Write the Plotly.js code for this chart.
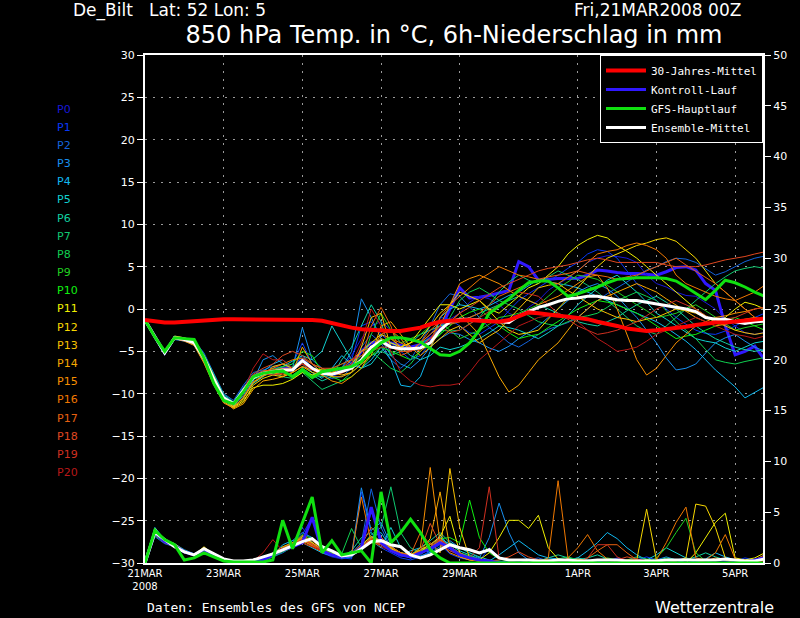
<!DOCTYPE html>
<html><head><meta charset="utf-8">
<script src="https://cdn.plot.ly/plotly-3.0.1.min.js"></script>
<style>html,body{margin:0;padding:0;background:#000;}#chart{width:800px;height:618px;}</style>
</head><body><div id="chart"></div>
<script>
const HOURS = [0,6,12,18,24,30,36,42,48,54,60,66,72,78,84,90,96,102,108,114,120,126,132,138,144,150,156,162,168,174,180,186,192,198,204,210,216,222,228,234,240,246,252,258,264,270,276,282,288,294,300,306,312,318,324,330,336,342,348,354,360,366,372,378,384];
const TICK_HOURS = [0,48,96,144,192,264,312,360];
const TICK_LABELS = ['21MAR<br>2008','23MAR','25MAR','27MAR','29MAR','1APR','3APR','5APR'];
const MEMBER_NAMES = ['P0','P1','P2','P3','P4','P5','P6','P7','P8','P9','P10','P11','P12','P13','P14','P15','P16','P17','P18','P19','P20'];
const MEMBER_COLORS = ['#1818d8','#0838f8','#1464dc','#1890f0','#10b8f0','#10d0d0','#10d0a0','#10c870','#10d050','#20d020','#10f010','#f0f000','#f8d800','#f8c000','#f8a800','#f89000','#f07800','#e86010','#e04820','#d03020','#b81818'];

// 850 hPa temperature of the members (deg C), 6-hourly from 21MAR2008 00Z
const T00 = [-1.3,-3.4,-5.1,-3.5,-3.7,-4.1,-6.0,-8.5,-10.6,-11.4,-9.8,-8.2,-7.5,-7.0,-6.8,-7.5,-6.0,-7.5,-8.0,-7.8,-7.0,-5.5,-3.5,-2.0,-1.5,-2.5,-4.0,-5.0,-4.5,-3.0,-1.5,-1.2,-0.5,0.8,1.5,1.2,0.5,-0.5,-1.0,0.2,1.0,2.2,3.0,3.6,4.5,5.5,6.0,6.3,6.2,6.0,5.5,4.0,3.0,2.6,2.0,1.6,1.5,0.8,0.0,-1.2,-2.0,-2.8,-3.0,-2.8,-2.5];
const T01 = [-1.3,-3.2,-5.3,-3.3,-3.5,-3.9,-5.5,-8.0,-10.2,-11.0,-9.2,-7.8,-7.3,-7.5,-7.0,-6.5,-4.0,-6.5,-7.5,-8.0,-7.5,-6.0,-2.0,-1.5,-3.0,-4.0,-5.0,-6.0,-5.5,-4.0,-1.0,-1.2,-2.0,-2.8,-3.0,-2.2,-1.5,-0.2,1.0,1.8,2.5,3.2,4.0,4.8,5.5,6.5,7.0,6.8,6.0,4.5,3.0,2.0,1.0,0.0,-1.0,-1.8,-2.5,-2.9,-3.0,-2.6,-2.0,-1.4,-1.0,-0.5,0.0];
const T02 = [-1.3,-3.3,-5.0,-3.2,-3.4,-3.7,-5.2,-7.6,-10.0,-10.8,-9.0,-7.5,-7.2,-6.8,-6.5,-7.0,-5.5,-7.0,-7.8,-8.2,-8.0,-7.0,-4.5,-3.0,-4.0,-6.0,-7.0,-6.0,-4.0,-2.0,0.5,1.8,1.5,0.2,-1.0,-2.2,-3.0,-4.0,-4.5,-3.8,-3.0,-2.4,-2.0,-1.6,-1.0,0.0,1.0,1.8,2.5,3.2,4.0,4.6,5.0,5.6,6.0,5.9,5.5,4.8,4.0,4.4,5.0,5.6,6.0,6.3,6.5];
const T03 = [-1.3,-3.5,-5.4,-3.6,-3.8,-4.2,-6.2,-8.8,-10.8,-11.5,-10.2,-8.5,-6.0,-5.5,-6.5,-7.0,-2.2,-6.0,-7.0,-7.5,-7.0,-5.0,1.2,-1.0,-3.5,-5.5,-6.5,-7.0,-6.0,-4.5,-3.5,-2.8,-3.0,-3.6,-4.0,-4.6,-5.0,-4.4,-3.5,-2.8,-2.0,-1.0,0.0,1.0,2.0,2.6,3.0,2.4,1.5,0.2,-1.0,-2.5,-4.0,-5.8,-7.2,-7.0,-6.5,-5.2,-4.0,-3.4,-3.0,-3.8,-4.5,-5.0,-5.5];
const T04 = [-1.3,-3.2,-5.2,-3.4,-3.6,-4.0,-5.7,-8.2,-10.4,-11.2,-9.4,-7.9,-7.4,-6.5,-6.0,-7.0,-6.5,-7.5,-8.2,-7.0,-5.5,-6.5,-7.0,-6.0,-4.5,-6.0,-9.0,-9.2,-8.0,-5.0,-1.0,0.0,0.5,0.3,0.0,0.4,1.0,1.6,2.0,2.8,3.5,3.2,3.0,2.8,2.5,2.0,1.5,1.0,0.5,0.0,-0.5,-1.0,-1.5,-2.2,-3.0,-3.8,-4.8,-6.0,-7.2,-8.2,-9.2,-10.5,-9.8,-9.2,-9.0];
const T05 = [-1.3,-3.4,-5.3,-3.5,-3.7,-4.3,-6.3,-8.9,-11.0,-11.6,-10.5,-8.8,-8.0,-7.2,-6.8,-6.2,-5.5,-6.0,-5.0,-2.0,-4.0,-6.0,-7.0,-6.5,-5.0,-4.0,-4.5,-5.5,-6.0,-5.5,-4.5,-4.8,-4.5,-4.0,-3.5,-2.8,-2.0,-2.2,-2.5,-3.0,-3.5,-2.8,-2.0,-0.8,0.5,1.5,2.5,3.4,4.0,3.0,2.0,0.8,-0.5,-1.2,-2.0,-2.8,-3.5,-3.8,-4.0,-4.6,-5.0,-4.5,-4.0,-3.8,-3.5];
const T06 = [-1.3,-3.3,-5.1,-3.3,-3.5,-3.8,-5.4,-7.8,-10.1,-11.0,-9.3,-8.0,-7.7,-7.8,-7.5,-8.0,-7.0,-7.8,-8.5,-8.0,-6.0,-4.5,-2.0,0.5,-1.5,-5.5,-5.0,-4.0,-3.0,-2.5,-2.0,-1.8,-1.5,-1.0,-0.5,0.0,0.5,1.0,1.5,1.0,0.5,0.0,-0.5,-1.0,-1.5,-1.8,-2.0,-1.5,-1.0,-0.2,0.5,1.0,1.5,0.8,0.0,-1.0,-2.0,-2.8,-3.5,-4.0,-4.5,-4.8,-5.0,-4.8,-4.5];
const T07 = [-1.3,-3.3,-5.2,-3.4,-3.7,-4.1,-5.9,-8.4,-10.6,-11.4,-9.7,-8.3,-7.9,-7.5,-8.0,-8.2,-7.5,-8.5,-9.5,-9.0,-8.5,-7.5,-6.5,-5.5,-5.0,-5.5,-4.5,-3.5,-4.0,-3.5,-2.5,-2.6,-2.5,-1.8,-1.0,0.5,2.0,3.2,4.0,3.4,3.0,3.8,4.5,4.0,3.5,2.8,2.0,1.0,0.0,-1.0,-2.0,-2.6,-3.0,-2.0,-1.0,0.0,1.0,2.0,3.0,3.8,4.5,4.8,5.0,4.8,4.5];
const T08 = [-1.3,-3.4,-5.2,-3.5,-3.6,-3.9,-5.6,-8.1,-10.3,-11.1,-9.5,-8.1,-7.6,-7.0,-7.5,-7.8,-7.0,-7.8,-8.0,-7.8,-7.2,-6.8,-5.5,-5.0,-6.0,-7.0,-7.5,-6.5,-5.0,-4.0,-3.0,-1.0,1.0,2.0,2.5,1.8,1.0,0.5,0.0,-0.8,-1.5,-1.8,-2.0,-1.5,-1.0,-0.8,-0.5,0.2,1.0,1.5,2.0,1.5,1.0,-0.2,-1.5,-2.5,-3.5,-4.8,-6.0,-6.3,-6.5,-6.2,-6.0,-5.8,-5.5];
const T09 = [-1.3,-3.2,-5.0,-3.3,-3.5,-4.0,-5.8,-8.3,-10.5,-11.3,-9.6,-8.0,-7.7,-7.6,-7.4,-6.8,-6.0,-7.0,-7.2,-7.0,-6.5,-6.0,-6.5,-3.0,-0.5,-2.5,-4.0,-3.5,-3.0,-2.0,-1.5,-2.5,-3.5,-3.0,-2.5,-1.8,-1.0,-0.8,-0.5,0.0,0.5,1.5,2.5,3.2,4.0,3.8,3.5,2.8,2.0,1.2,0.5,-0.2,-1.0,-0.8,-0.5,0.0,0.5,-0.2,-1.0,-1.8,-2.5,-2.2,-2.0,-1.8,-1.5];
const T10 = [-1.3,-3.3,-5.3,-3.4,-3.6,-4.1,-6.0,-8.6,-10.8,-11.5,-9.9,-8.3,-7.6,-7.2,-6.8,-6.5,-5.0,-5.5,-7.5,-8.0,-8.5,-8.0,-7.0,-5.5,-4.5,-5.0,-5.5,-6.0,-5.0,-4.0,-3.0,-2.0,-1.0,-0.4,0.0,-1.0,-2.0,-2.8,-3.5,-3.2,-3.0,-2.2,-1.5,-0.8,0.0,0.5,1.0,0.8,0.5,0.0,-0.5,-1.2,-2.0,-2.8,-3.5,-3.2,-3.0,-2.5,-2.0,-1.5,-1.0,-1.5,-2.0,-2.5,-3.0];
const T11 = [-1.3,-3.3,-5.1,-3.2,-3.4,-3.8,-5.5,-8.0,-10.4,-11.6,-10.8,-9.3,-9.0,-9.0,-8.8,-8.3,-7.5,-7.8,-7.5,-7.0,-7.0,-6.5,-5.0,-4.0,-3.0,-3.5,-4.5,-4.0,-2.5,-1.0,0.5,0.5,0.0,0.5,1.0,0.0,-0.5,0.5,1.5,2.5,3.0,4.0,5.0,6.5,7.5,8.2,8.7,8.4,7.5,6.8,6.0,5.0,4.0,3.0,2.0,1.0,0.0,-0.8,-1.5,-1.0,0.0,0.8,0.5,0.0,-0.5];
const T12 = [-1.3,-3.4,-5.2,-3.3,-3.5,-3.9,-5.6,-8.1,-10.5,-11.7,-11.0,-9.0,-8.2,-7.8,-8.0,-7.5,-6.8,-7.5,-7.8,-7.5,-7.0,-7.0,-6.0,-4.5,-3.5,-4.0,-4.5,-4.0,-3.5,-2.0,-0.5,0.5,2.0,1.5,1.0,-0.2,-1.5,-2.5,-3.0,-2.8,-2.5,-1.2,0.0,1.2,2.5,3.8,5.0,6.0,6.5,7.0,7.5,7.8,8.2,8.4,8.0,7.0,6.0,4.5,3.0,2.0,1.0,0.0,-1.0,-1.5,-2.0];
const T13 = [-1.3,-3.2,-5.1,-3.4,-3.6,-4.0,-5.7,-8.2,-10.6,-11.5,-10.6,-8.7,-7.9,-6.8,-6.5,-7.0,-6.5,-7.0,-7.2,-7.5,-7.8,-7.5,-4.5,-1.0,-0.5,-4.5,-5.0,-5.0,-4.5,-4.5,-3.5,-2.5,-2.0,-3.0,-4.0,-3.2,-2.5,-1.2,0.0,1.2,2.5,2.8,3.0,2.2,1.5,0.8,0.0,-0.5,-1.0,-1.2,-1.5,-1.2,-1.0,-0.5,0.0,-0.2,-0.5,-1.0,-1.5,-2.0,-2.5,-2.8,-3.0,-2.8,-2.5];
const T14 = [-1.3,-3.3,-5.2,-3.5,-3.7,-4.2,-6.1,-8.7,-10.9,-11.8,-11.2,-9.5,-8.5,-8.3,-8.0,-7.5,-4.5,-6.5,-7.5,-8.0,-8.0,-7.5,-6.5,-5.5,-2.0,-1.5,-3.0,-4.5,-5.5,-4.5,-2.5,-1.5,-0.5,-1.8,-3.0,-5.5,-8.0,-9.8,-9.0,-7.5,-6.0,-5.0,-4.0,-2.5,-1.0,0.0,1.0,1.5,2.0,2.5,3.0,2.5,2.0,1.2,0.5,-0.2,-1.0,-1.5,-2.0,-1.8,-1.5,-1.2,-1.0,-1.2,-1.5];
const T15 = [-1.3,-3.4,-5.3,-3.5,-3.8,-4.3,-6.4,-9.0,-11.1,-11.7,-10.4,-8.6,-7.9,-7.5,-7.8,-7.5,-6.8,-7.2,-7.8,-8.5,-8.8,-8.0,-7.0,-5.0,-3.0,-2.5,-3.5,-5.0,-4.0,-3.0,-2.0,0.5,3.0,3.6,4.0,3.5,3.0,2.2,1.5,1.0,0.5,1.0,1.5,2.2,3.0,3.8,4.0,2.5,0.0,-3.0,-6.0,-7.8,-7.0,-5.5,-4.0,-3.0,-2.0,-1.5,-1.0,-0.8,-0.5,-0.3,0.0,0.2,0.3];
const T16 = [-1.3,-3.3,-5.2,-3.4,-3.6,-4.0,-5.9,-8.4,-10.7,-11.4,-10.0,-8.2,-7.5,-7.0,-6.5,-6.0,-5.8,-6.5,-7.0,-7.5,-7.0,-6.0,-5.0,-4.5,-4.0,-3.5,-4.0,-4.5,-5.0,-4.0,-1.0,0.5,1.5,2.5,3.5,4.2,5.0,4.5,4.0,3.8,3.5,3.2,3.0,3.8,4.5,5.5,6.5,6.8,7.0,7.5,7.8,7.5,7.0,6.0,4.0,3.0,2.5,2.0,1.5,1.2,1.0,1.5,2.0,2.8,3.5];
const T17 = [-1.3,-3.2,-5.0,-3.3,-3.5,-3.9,-5.7,-8.2,-10.4,-11.2,-9.6,-7.9,-7.3,-7.2,-7.0,-7.0,-6.5,-7.0,-7.5,-7.8,-7.5,-7.0,-6.0,-2.0,0.2,-2.0,-5.5,-5.0,-4.0,-2.5,-1.5,-1.8,-1.5,-1.0,-0.5,0.5,1.5,2.0,2.5,3.0,3.5,3.8,4.0,4.2,4.5,4.2,4.0,3.8,3.5,3.8,4.0,4.5,5.0,5.5,6.0,5.2,4.5,3.8,3.0,2.0,1.0,0.0,-1.0,-1.5,-2.0];
const T18 = [-1.3,-3.4,-5.2,-3.4,-3.6,-4.0,-5.8,-8.3,-10.5,-11.3,-9.4,-7.7,-7.0,-6.5,-5.5,-5.0,-5.5,-6.5,-7.0,-7.0,-6.5,-6.0,-5.5,-4.5,-4.0,-4.5,-5.0,-5.0,-4.5,-3.5,-2.5,-1.5,-0.5,0.2,1.0,1.8,2.5,3.0,3.5,4.0,4.5,4.8,5.0,5.2,5.5,5.8,6.0,5.8,5.5,5.5,5.5,5.5,5.5,5.2,5.0,5.0,5.0,5.2,5.5,5.8,6.0,6.2,6.5,6.8,7.0];
const T19 = [-1.3,-3.3,-5.1,-3.4,-3.7,-4.1,-5.9,-8.5,-10.7,-11.4,-9.8,-8.1,-7.6,-7.8,-7.6,-7.2,-6.5,-7.0,-7.5,-7.8,-7.6,-7.0,-6.0,-5.0,-4.5,-4.5,-4.5,-5.0,-4.5,-3.5,-2.0,-2.8,-2.5,-1.8,-1.0,-0.2,0.5,1.2,2.0,1.8,1.5,0.5,-0.5,-1.2,-2.0,-2.5,-3.0,-2.8,-2.5,-2.0,-1.5,-0.8,0.0,0.5,1.0,0.5,0.0,-0.8,-1.5,-1.2,-1.0,-0.5,0.0,0.2,0.5];
const T20 = [-1.3,-3.4,-5.3,-3.5,-3.7,-4.1,-6.0,-8.5,-10.6,-11.3,-9.7,-7.0,-5.3,-6.0,-6.0,-7.0,-6.5,-7.2,-7.5,-7.2,-7.0,-6.5,-4.0,0.0,-2.0,-5.0,-7.5,-8.5,-9.0,-9.2,-9.0,-9.0,-8.8,-7.5,-6.0,-5.0,-4.0,-3.0,-2.0,-1.5,-1.0,-0.8,-0.5,-1.0,-1.5,-2.5,-3.5,-4.2,-5.0,-4.8,-4.5,-3.8,-3.0,-2.5,-2.0,-1.5,-1.0,-1.5,-2.0,-2.5,-3.0,-3.2,-3.5,-3.2,-3.0];

// 6h precipitation of the members (mm)
const R00 = [0,2.8,2.0,1.8,1.2,0.8,1.2,0.7,0.3,0.1,0.0,0.1,0.3,0.8,1.5,1.8,3.5,2.0,1.0,0.6,0.4,0.6,1.5,5.0,2.5,1.2,0.6,0.8,1.0,1.5,2.0,1.2,0.8,0.5,0.3,0.2,0.1,0,0,0.2,0.3,0.1,0,0,0,0,0,0.2,0.5,0.3,0,0,0,0,0,0,0,0.2,0.4,0.2,0,0,0.3,0.8,1.2];
const R01 = [0,3.1,2.2,1.6,1.0,0.9,1.4,0.8,0.3,0.1,0.1,0.2,0.4,1.0,1.2,2.0,2.8,4.5,1.5,0.8,0.5,0.4,7.0,3.0,1.5,1.0,0.5,0.3,0.6,1.2,1.8,0.9,0.5,0.3,0.2,1.5,0.6,0.2,0,0,0,0.1,0.2,0.1,0,0,0,0,0,0,0.3,0.6,0.3,0,0,0,0,0,0,0,0.2,0.5,0.3,0.2,0.5];
const R02 = [0,2.6,1.9,1.6,1.2,0.7,1.1,0.9,0.4,0.2,0.1,0.1,0.2,0.6,1.0,1.6,2.5,1.8,1.2,0.8,0.6,1.0,2.0,7.3,3.5,1.5,0.8,0.5,0.8,1.5,2.5,1.6,1.0,0.6,0.3,0.1,0,0,0,0.3,0.5,0.2,0,0,0,0,0.1,0.3,0.2,0,0,0,0,0,0.3,0.5,0.2,0,0,0,0,0,0.2,0.5,0.8];
const R03 = [0,3.3,2.2,1.8,1.1,0.8,1.3,0.8,0.3,0.1,0.1,0.1,0.3,0.9,1.4,2.2,3.0,2.5,1.5,1.0,0.6,0.8,7.4,3.2,4.0,1.8,0.8,0.5,0.7,1.0,1.6,2.2,1.5,1.0,0.5,2.5,5.9,3.0,1.0,0.3,0,0,0,0.2,0.4,0.2,0,0,0,0,0,0,0.3,0.6,0.3,0,0,0,0,0,0,0,0,0.3,0.6];
const R04 = [0,3.5,2.3,1.9,1.3,0.9,1.2,0.7,0.2,0.1,0.1,0.1,0.2,0.7,1.8,2.2,2.0,1.5,1.0,0.7,0.5,0.8,1.2,2.5,3.0,1.5,0.8,1.2,1.5,1.0,2.8,1.5,0.8,0.5,0.3,0.2,0.8,1.5,2.2,1.5,0.8,0.5,0.4,0.3,0.5,1.2,2.0,3.0,2.4,1.5,0.8,0.3,0.2,0,0,0,0.2,0.4,1.0,0.6,0.3,0.2,0.3,0.5,0.8];
const R05 = [0,2.9,2.0,1.7,1.0,0.8,1.2,0.8,0.3,0.1,0.1,0.1,0.3,0.8,1.2,1.5,2.2,1.8,1.3,0.8,0.5,0.6,1.8,2.2,1.5,3.5,1.5,0.8,1.2,1.8,2.5,1.8,1.2,0.8,0.4,0.2,0.1,0,0,0,0,0,0,0.2,0.5,0.3,0.1,0,0,0,0,0.3,0.8,1.5,1.0,0.5,0.2,0,0,0,0,0,0,0.2,0.4];
const R06 = [0,3.0,2.1,1.6,1.1,0.7,1.3,0.9,0.3,0.1,0.1,0.2,0.4,1.0,1.6,1.8,2.6,2.0,1.2,0.8,0.6,1.2,2.5,3.0,2.0,1.5,1.0,0.8,1.5,2.2,3.0,2.0,1.5,1.0,0.6,0.3,0.2,0.1,0,0,0.2,0.5,0.8,0.5,0.3,0.5,0.8,0.4,0.2,0,0,0,0,0,0,0.3,0.6,1.0,0.6,0.3,0,0,0,0.2,0.3];
const R07 = [0,3.2,2.1,1.8,1.2,0.8,1.4,0.8,0.3,0.1,0.1,0.1,0.3,0.7,1.3,1.7,2.4,1.9,1.4,0.9,0.6,0.8,1.6,2.8,3.5,7.5,3.0,1.5,1.0,1.4,2.0,1.4,0.8,0.6,0.3,0.2,0,0,0,0,0.2,0.3,0.2,0,0,0,0,0,0,0.3,0.6,0.4,0.2,0,0,0,0,0,0,0,0,0,0.2,0.4,0.6];
const R08 = [0,2.7,2.0,1.7,1.1,0.8,1.2,0.8,0.3,0.1,0.1,0.1,0.2,0.6,1.1,1.5,2.0,1.6,1.2,0.8,0.9,3.4,1.5,2.0,1.8,1.2,0.8,0.6,1.0,1.5,2.2,1.6,1.0,0.7,0.4,0.2,0.1,0,0,0,0,0.2,0.4,0.6,0.3,0,0,0,0,0,0,0,0.2,0.5,0.3,0,0,0,0,0,0,0,0,0.3,0.5];
const R09 = [0,3.1,2.2,1.7,1.0,0.8,1.3,0.7,0.3,0.1,0.1,0.1,0.3,0.8,1.4,2.0,2.6,2.2,1.4,0.9,0.6,0.7,1.4,2.2,1.8,1.3,0.9,0.6,0.9,1.4,2.2,1.5,0.9,0.6,0.3,0.2,0.1,0,0,0,0,0,0,0,0,0,0.2,0.5,0.3,0,0,0,0.5,1.5,3.0,4.4,1.0,0.2,0,0,0,0,0,0.2,0.4];
const R10 = [0,3.0,2.0,1.6,1.1,0.8,1.2,0.8,0.3,0.1,0.1,0.1,0.3,0.9,1.5,1.9,2.8,2.4,1.5,1.0,0.6,0.8,1.6,2.4,2.0,1.4,1.0,0.8,1.2,1.6,2.4,2.5,2.0,6.2,2.5,1.0,0.4,0.2,0,0,0,0,0.2,0.4,0.3,0,0,0,0,0,0,0,0,0,0,0,0,0,0,0,0,0,0,0.2,0.3];
const R11 = [0,3.4,2.3,1.9,1.2,0.8,1.5,0.9,0.3,0.1,0.1,0.1,0.3,0.8,1.3,1.8,2.4,2.0,1.3,0.9,0.7,0.9,1.8,2.6,2.2,1.6,1.0,0.8,1.3,1.8,2.6,4.6,1.0,0.5,0.3,1.0,2.5,4.2,4.2,3.4,4.7,1.5,0.4,0.2,0,0,0,0,0,0,0.2,0.3,0.2,0,0,0,1.0,2.5,4.0,4.9,0.5,0.3,0.5,1.0,1.3];
const R12 = [0,3.2,2.2,1.8,1.1,0.8,1.6,0.8,0.3,0.1,0.1,0.1,0.3,0.7,1.2,1.7,2.2,1.8,1.2,0.8,0.6,0.8,1.4,2.2,2.0,1.4,0.9,0.7,1.1,1.6,2.2,1.6,0.6,0.3,0.2,0,0,0,0,0.2,0.3,0.2,0,0,0,0,0,0,0.2,0.3,0.3,5.3,0.3,0.2,0.2,0.5,5.8,5.6,3.5,0.5,0.2,0.2,0.3,0.6,1.0];
const R13 = [0,2.9,2.0,1.7,1.1,0.8,1.3,0.8,0.3,0.1,0.1,0.1,0.3,0.8,1.4,1.8,2.6,2.0,1.3,0.8,0.6,0.8,1.5,2.3,1.8,1.3,0.9,0.6,1.0,2.0,1.0,9.3,3.5,0.5,0.2,0,0,0,0,0,0,0,0.2,0.4,0.2,0,0,0,0,0,0,0,0,0,0.2,0.4,0.3,0,0,0,0,0,0,0.3,0.6];
const R14 = [0,3.0,2.1,1.7,1.0,0.9,1.3,0.8,0.3,0.1,0.1,0.1,0.3,0.9,1.6,2.0,2.4,1.8,1.2,0.8,0.6,0.9,1.7,2.6,2.0,1.5,1.0,0.8,1.2,2.4,7.0,1.5,0.8,0.4,0.2,0,0,0,0,0,0,0,0,0.2,0.4,0.2,0,0,0,0,0,0,0,0,0,0,0,0,0,0,0,0,0.2,0.4,0.6];
const R15 = [0,3.1,2.1,1.8,1.2,0.8,1.2,0.8,0.3,0.1,0.1,0.1,0.3,0.8,1.3,1.8,2.2,1.7,1.2,0.8,0.6,0.8,1.6,2.4,2.2,1.6,1.0,0.7,1.5,9.4,2.0,1.0,0.6,0.3,0.2,0,0,0,0,0,0.2,0.3,0.2,0,0,0,0,0,0,0,0,0,0,0,0,0,0,0.2,0.5,0.3,0,0,0,0.3,0.5];
const R16 = [0,2.8,2.0,1.6,1.1,0.7,1.2,0.8,0.3,0.1,0.1,0.1,0.2,0.7,1.2,1.6,2.0,1.6,1.1,0.8,0.6,0.8,6.5,2.0,1.8,1.2,0.8,0.6,1.0,1.5,2.2,1.4,0.8,0.4,0.2,0,0,0,0,0,0,0.5,8.1,0.5,1.5,2.8,1.2,0.4,0.2,0,0,0,0.3,2.0,4.0,5.5,0.5,0.3,1.0,2.8,0.4,0.2,0.3,0.8,1.5];
const R17 = [0,3.2,2.2,1.8,1.1,0.8,1.4,0.8,0.3,0.1,0.1,0.1,0.3,0.9,1.5,1.9,2.7,2.2,1.4,0.9,0.6,0.9,1.8,3.5,2.5,1.6,1.0,0.8,3.0,1.8,2.4,1.6,1.0,0.5,0.3,0.2,0,0,0,0,0,0,0,0,0,0.5,1.2,1.8,1.8,1.0,0.3,0,0,0,0,0,0,0,0,0,0,0,0.2,0.6,1.0];
const R18 = [0,3.0,2.0,1.7,1.0,0.8,1.2,0.7,0.3,0.1,0.1,0.1,0.4,1.0,1.4,1.8,2.4,1.9,1.3,0.8,0.6,0.8,1.6,2.4,1.8,1.3,0.9,0.7,1.2,3.9,1.8,1.2,0.8,0.5,0.3,0.2,0.3,0.6,1.1,0.6,0.3,0.2,0.2,0.4,0.2,0,0,0,0.3,0.6,0.4,0.2,0,0,0,0,0,0,0,0,0,0,0.2,0.5,0.8];
const R19 = [0,2.9,2.1,1.7,1.2,0.8,1.3,0.8,0.3,0.1,0.1,0.1,0.3,0.8,1.3,1.7,2.3,1.8,1.2,0.8,0.6,0.8,1.5,2.3,1.8,1.2,0.8,0.6,1.0,1.6,2.3,1.5,0.9,0.5,1.5,7.5,0.5,0.2,0,0,0,0,0,0,0,0.5,1.8,1.8,0.6,0.2,0,0,0,0,0,0,0,0,0,0,0,0,0,0.2,0.5];
const R20 = [0,3.0,2.1,1.7,1.1,0.8,1.2,0.8,0.3,0.1,0.1,0.2,1.0,2.3,1.2,1.5,2.0,1.6,1.2,0.8,0.6,0.8,1.4,2.2,1.6,1.2,0.8,0.6,1.0,1.5,2.0,1.4,0.8,0.4,0.2,0,0,0,0,0,0,0,0,0,0,0,0,0.2,0.3,0.2,0,0,0,0,0,0,0,0,0,0,0,0,0,0.2,0.4];

// highlighted runs
const CLIM_T = [-1.3,-1.5,-1.6,-1.6,-1.5,-1.4,-1.3,-1.2,-1.2,-1.2,-1.2,-1.2,-1.2,-1.2,-1.2,-1.2,-1.2,-1.3,-1.4,-1.7,-2.0,-2.2,-2.4,-2.5,-2.6,-2.6,-2.6,-2.4,-2.2,-1.8,-1.5,-1.4,-1.3,-1.3,-1.4,-1.4,-1.5,-1.3,-0.8,-0.4,-0.5,-0.7,-0.8,-0.9,-1.0,-1.2,-1.5,-1.7,-2.0,-2.3,-2.5,-2.6,-2.5,-2.4,-2.3,-2.1,-1.9,-1.7,-1.6,-1.6,-1.5,-1.4,-1.2,-1.1,-1.0];
const CTRL_T = [-1.3,-3.3,-5.2,-3.4,-3.6,-4.0,-5.9,-8.4,-10.6,-11.3,-9.6,-8.0,-7.6,-7.3,-7.0,-7.0,-6.0,-7.0,-7.5,-7.6,-7.2,-6.5,-5.0,-4.0,-3.8,-4.0,-4.3,-4.5,-4.2,-3.5,-2.5,0.0,2.5,1.3,1.4,1.6,1.9,2.2,5.6,5.0,3.4,3.5,3.6,3.6,3.6,4.0,4.6,4.5,4.3,4.2,4.2,4.1,4.0,4.4,4.9,5.0,4.6,3.0,2.2,-2.0,-5.4,-5.0,-4.4,-6.0,-6.5];
const GFS_T = [-1.3,-3.3,-5.0,-3.4,-3.5,-3.6,-5.8,-8.8,-10.8,-11.2,-9.8,-8.0,-7.6,-7.4,-7.3,-8.0,-7.2,-8.1,-7.4,-7.2,-7.0,-6.8,-6.2,-5.0,-4.0,-3.4,-3.4,-3.6,-3.9,-4.6,-5.4,-5.5,-5.0,-4.0,-2.5,-0.5,0.3,1.2,2.2,3.1,3.3,3.3,2.5,1.5,1.8,2.2,2.6,3.1,3.5,3.6,3.7,3.7,3.7,3.6,3.3,2.6,1.8,1.1,2.2,3.4,3.1,2.6,2.0,1.5,1.2];
const MEAN_T = [-1.3,-3.3,-5.2,-3.4,-3.6,-4.0,-5.8,-8.3,-10.5,-11.2,-9.6,-8.1,-7.6,-7.4,-7.2,-7.2,-6.1,-7.0,-7.6,-7.7,-7.4,-7.0,-6.0,-4.5,-3.8,-4.5,-4.7,-4.7,-4.6,-4.0,-2.5,-1.5,-1.2,-1.2,-1.3,-1.4,-1.5,-1.6,-0.8,-0.3,0.2,0.5,0.9,1.2,1.3,1.5,1.5,1.3,1.1,1.0,1.0,0.8,0.6,0.4,0.2,0.0,-0.3,-1.0,-1.2,-1.2,-1.5,-1.7,-1.5,-1.4,-1.4];
const CTRL_R = [0,3.0,2.1,1.7,1.1,0.8,1.3,0.8,0.3,0.1,0.1,0.1,0.3,0.8,1.3,1.6,2.0,4.5,1.2,0.8,0.6,0.8,1.5,5.5,2.0,1.2,0.8,0.6,1.0,1.4,2.0,1.5,0.8,0.5,0.3,0.2,0,0,0,0,0,0,0,0,0,0,0,0,0,0,0,0,0,0,0,0,0,0,0,0,0,0,0.3,0.5,0.8];
const GFS_R = [0,3.2,2.3,1.8,0.3,0.5,1.0,0.6,0.2,0.1,0.1,0.1,0.1,0.3,4.2,1.4,4.0,6.5,1.0,2.2,0.8,1.0,1.2,0.0,7.0,2.0,3.0,4.3,3.0,1.3,0.5,0,0,0,0,0,0,0,0,0,0,0,0,0,0,0,0,0,0,0,0,0,0,0,0,0,0,0,0,0,0,0,0,0,0];
const MEAN_R = [0,3.0,2.3,1.6,1.1,0.8,1.4,0.9,0.4,0.2,0.2,0.3,0.6,0.9,1.3,1.7,2.1,2.4,1.6,1.2,0.7,0.8,1.4,2.1,2.2,1.8,1.6,0.8,0.5,0.8,1.3,1.8,1.5,1.3,1.0,1.3,0.5,0.3,0.3,0.3,0.2,0.2,0.3,0.3,0.2,0.2,0.3,0.3,0.3,0.2,0.2,0.2,0.2,0.3,0.3,0.3,0.3,0.3,0.3,0.4,0.3,0.2,0.2,0.4,0.5];

const TEMP = [T00,T01,T02,T03,T04,T05,T06,T07,T08,T09,T10,T11,T12,T13,T14,T15,T16,T17,T18,T19,T20];
const RAIN = [R00,R01,R02,R03,R04,R05,R06,R07,R08,R09,R10,R11,R12,R13,R14,R15,R16,R17,R18,R19,R20];

const FONT = 'DejaVu Sans, Liberation Sans, sans-serif';
const MONO = 'DejaVu Sans Mono, Liberation Mono, monospace';
const BLUE = '#3018ff', GREEN = '#10e010';
const traces = [];
// control run lies beneath the members
traces.push({x: HOURS, y: CTRL_T, type: 'scatter', mode: 'lines', name: 'Kontroll-Lauf', legendrank: 2, line: {color: BLUE, width: 3}});
TEMP.forEach((t, i) => traces.push({x: HOURS, y: t, type: 'scatter', mode: 'lines', name: MEMBER_NAMES[i],
  line: {color: MEMBER_COLORS[i], width: 1}, showlegend: false, hoverinfo: 'skip'}));
RAIN.forEach((r, i) => traces.push({x: HOURS, y: r, yaxis: 'y2', type: 'scatter', mode: 'lines', name: MEMBER_NAMES[i],
  line: {color: MEMBER_COLORS[i], width: 1}, showlegend: false, hoverinfo: 'skip'}));
traces.push({x: HOURS, y: CTRL_R, yaxis: 'y2', type: 'scatter', mode: 'lines', line: {color: BLUE, width: 3}, showlegend: false});
traces.push({x: HOURS, y: MEAN_R, yaxis: 'y2', type: 'scatter', mode: 'lines', line: {color: '#ffffff', width: 3}, showlegend: false});
traces.push({x: HOURS, y: GFS_R, yaxis: 'y2', type: 'scatter', mode: 'lines', line: {color: GREEN, width: 3}, showlegend: false});
traces.push({x: HOURS, y: MEAN_T, type: 'scatter', mode: 'lines', name: 'Ensemble-Mittel', legendrank: 4, line: {color: '#ffffff', width: 3}});
traces.push({x: HOURS, y: GFS_T, type: 'scatter', mode: 'lines', name: 'GFS-Hauptlauf', legendrank: 3, line: {color: GREEN, width: 3}});
traces.push({x: HOURS, y: CLIM_T, type: 'scatter', mode: 'lines', name: '30-Jahres-Mittel', legendrank: 1, line: {color: '#ff0000', width: 4}});

// layout helpers: pixel -> paper coordinates of the 618x508 plot area
const L = 145, T = 55, W = 618, H = 508;
const px = v => (v - L) / W;
const py = v => (T + H - v) / H;

const annotations = [];
MEMBER_NAMES.forEach((n, i) => annotations.push({text: n, xref: 'paper', yref: 'paper', x: px(55), y: py(109 + 18.18 * i),
  xanchor: 'left', yanchor: 'middle', showarrow: false, font: {family: FONT, size: 11, color: MEMBER_COLORS[i]}}));
annotations.push({text: 'De_Bilt\u00a0\u00a0 Lat: 52 Lon: 5', xref: 'paper', yref: 'paper', x: px(71), y: py(11), xanchor: 'left', yanchor: 'middle', showarrow: false, font: {family: FONT, size: 17, color: '#fff'}});
annotations.push({text: 'Fri,21MAR2008 00Z', xref: 'paper', yref: 'paper', x: px(743), y: py(10), xanchor: 'right', yanchor: 'middle', showarrow: false, font: {family: FONT, size: 17, color: '#fff'}});
annotations.push({text: 'Daten: Ensembles des GFS von NCEP', xref: 'paper', yref: 'paper', x: px(145), y: py(607), xanchor: 'left', yanchor: 'middle', showarrow: false, font: {family: MONO, size: 13, color: '#fff'}});
annotations.push({text: 'Wetterzentrale', xref: 'paper', yref: 'paper', x: px(776), y: py(607), xanchor: 'right', yanchor: 'middle', showarrow: false, font: {family: FONT, size: 16, color: '#fff'}});

const GRID = '#9a9a9a';
const layout = {
  width: 800, height: 618,
  paper_bgcolor: '#000', plot_bgcolor: '#000',
  margin: {l: L, r: 800 - L - W, t: T, b: 618 - T - H, pad: 0},
  font: {family: FONT, color: '#fff', size: 11},
  title: {text: '850 hPa Temp. in °C, 6h-Niederschlag in mm', xref: 'paper', x: 0.5, xanchor: 'center', yref: 'container', y: 1 - 35 / 618, yanchor: 'middle', font: {family: FONT, size: 24, color: '#fff'}},
  showlegend: true,
  legend: {x: 1, y: 1, xanchor: 'right', yanchor: 'top', bgcolor: '#000', bordercolor: '#fff', borderwidth: 1, traceorder: 'normal', itemwidth: 40,
    font: {family: MONO, size: 11, color: '#fff'}},
  xaxis: {range: [0, 377], tickvals: TICK_HOURS, ticktext: TICK_LABELS, tickfont: {size: 10}, ticks: '', showgrid: true, gridcolor: GRID, griddash: '2px,6px', gridwidth: 1,
    showline: true, linecolor: '#fff', linewidth: 2, mirror: true, zeroline: false, fixedrange: true},
  yaxis: {range: [-30, 30], dtick: 5, tick0: 0, ticks: 'outside', ticklen: 6, tickcolor: '#fff', tickwidth: 1, showgrid: true, gridcolor: GRID, griddash: '2px,6px', gridwidth: 1,
    showline: true, linecolor: '#fff', linewidth: 2, zeroline: false, tickfont: {size: 11}},
  yaxis2: {range: [0, 50], dtick: 5, tick0: 0, overlaying: 'y', side: 'right', ticks: 'outside', ticklen: 6, tickcolor: '#fff', tickwidth: 1, showgrid: false,
    showline: true, linecolor: '#fff', linewidth: 2, zeroline: false, tickfont: {size: 11}},
  annotations: annotations,
  hovermode: false
};
Plotly.newPlot('chart', traces, layout, {staticPlot: true, displayModeBar: false});
</script>
</body></html>
